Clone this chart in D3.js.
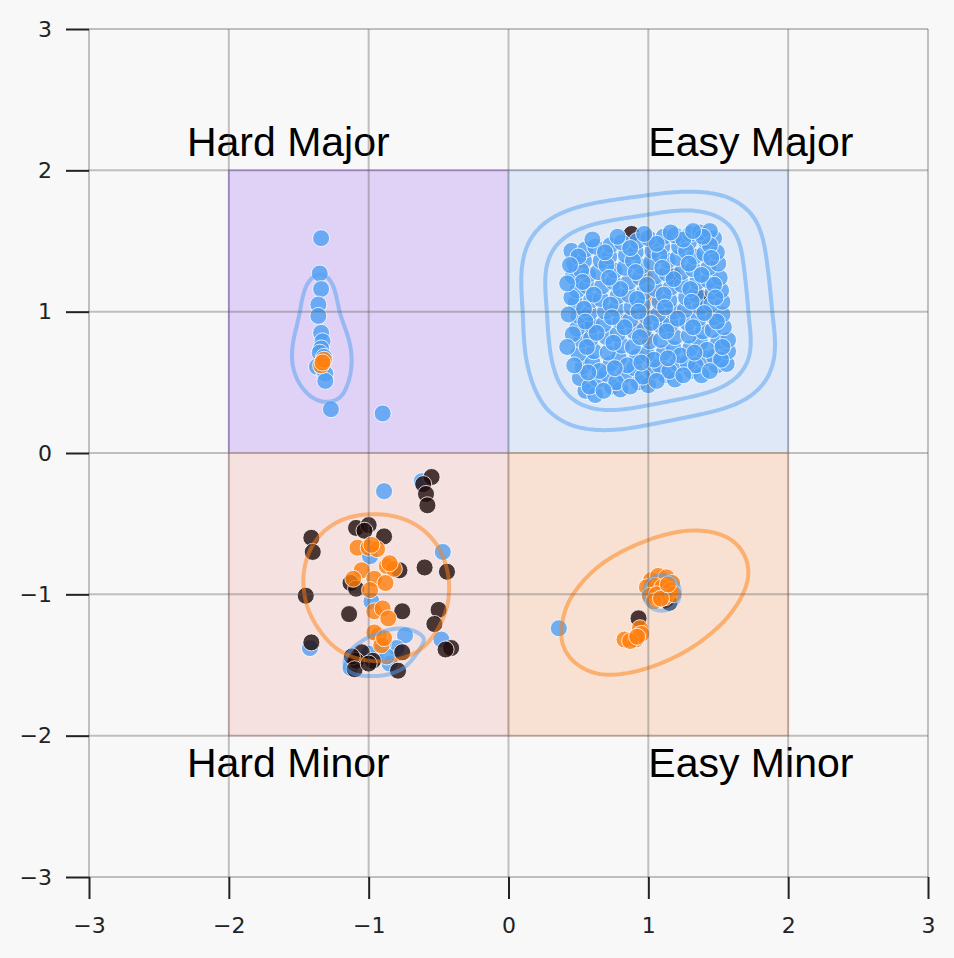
<!DOCTYPE html>
<html>
<head>
<meta charset="utf-8">
<script src="https://cdn.jsdelivr.net/npm/d3@7"></script>
<style>
  html, body { margin: 0; padding: 0; background: #f8f8f8; }
  svg { display: block; }
</style>
</head>
<body>
<svg id="chart" width="954" height="958"></svg>
<script>
// ---- data ----
const quadrants = [
  { name: 'Hard Major', x0: -2, x1: 0, y0: 0, y1: 2 },
  { name: 'Easy Major', x0: 0, x1: 2, y0: 0, y1: 2 },
  { name: 'Hard Minor', x0: -2, x1: 0, y0: -2, y1: 0 },
  { name: 'Easy Minor', x0: 0, x1: 2, y0: -2, y1: 0 }
];
const quadrantLabels = [
  { text: 'Hard Major', x: -2.3, y: 2.1 },
  { text: 'Easy Major', x: 1.0, y: 2.1 },
  { text: 'Hard Minor', x: -2.3, y: -2.29 },
  { text: 'Easy Minor', x: 1.0, y: -2.29 }
];
const tickValues = [-3, -2, -1, 0, 1, 2, 3];

const easyMajorBlue = [
  [0.55,0.44],[0.62,0.41],[0.74,0.47],[0.80,0.45],[0.93,0.50],[1.00,0.48],[1.12,0.55],[1.19,0.52],[1.31,0.58],[1.38,0.55],[1.49,0.62],[1.56,0.63],
  [0.51,0.53],[0.64,0.52],[0.70,0.56],[0.83,0.55],[0.90,0.60],[1.03,0.58],[1.08,0.62],[1.21,0.63],[1.28,0.64],[1.40,0.67],[1.47,0.68],[1.57,0.72],
  [0.53,0.61],[0.60,0.64],[0.73,0.63],[0.79,0.67],[0.92,0.68],[0.99,0.70],[1.11,0.71],[1.18,0.74],[1.30,0.74],[1.37,0.78],[1.50,0.79],[1.57,0.80],
  [0.50,0.70],[0.61,0.72],[0.71,0.71],[0.81,0.76],[0.89,0.75],[1.01,0.79],[1.09,0.80],[1.19,0.82],[1.29,0.83],[1.39,0.86],[1.46,0.87],[1.54,0.89],
  [0.52,0.80],[0.59,0.81],[0.70,0.82],[0.78,0.84],[0.90,0.86],[0.97,0.87],[1.09,0.90],[1.16,0.91],[1.28,0.92],[1.36,0.95],[1.47,0.96],[1.53,0.98],
  [0.49,0.88],[0.60,0.90],[0.68,0.91],[0.80,0.93],[0.87,0.94],[0.99,0.96],[1.07,0.98],[1.18,1.00],[1.26,1.01],[1.37,1.03],[1.45,1.05],[1.53,1.07],
  [0.50,0.97],[0.58,0.99],[0.69,1.00],[0.77,1.02],[0.88,1.03],[0.96,1.05],[1.08,1.07],[1.15,1.08],[1.27,1.10],[1.34,1.12],[1.46,1.14],[1.52,1.15],
  [0.48,1.06],[0.59,1.08],[0.66,1.09],[0.78,1.11],[0.86,1.12],[0.97,1.14],[1.05,1.16],[1.16,1.17],[1.24,1.19],[1.35,1.21],[1.43,1.22],[1.51,1.24],
  [0.49,1.15],[0.56,1.18],[0.67,1.18],[0.75,1.21],[0.86,1.21],[0.94,1.24],[1.05,1.25],[1.13,1.27],[1.24,1.28],[1.32,1.30],[1.43,1.31],[1.50,1.34],
  [0.46,1.25],[0.57,1.26],[0.64,1.28],[0.76,1.29],[0.83,1.31],[0.95,1.32],[1.02,1.35],[1.14,1.36],[1.21,1.38],[1.33,1.39],[1.40,1.41],[1.49,1.42],
  [0.47,1.34],[0.54,1.36],[0.66,1.36],[0.72,1.39],[0.84,1.40],[0.91,1.42],[1.03,1.43],[1.10,1.46],[1.22,1.46],[1.29,1.49],[1.41,1.50],[1.47,1.52],
  [0.45,1.43],[0.55,1.44],[0.62,1.46],[0.73,1.47],[0.81,1.49],[0.92,1.50],[1.00,1.52],[1.11,1.53],[1.19,1.54],[1.30,1.55],[1.37,1.56],[1.44,1.57],
  [0.58,0.47],[0.77,0.50],[0.96,0.54],[1.15,0.58],[1.34,0.62],[1.52,0.66],
  [0.56,0.75],[0.75,0.78],[0.94,0.82],[1.13,0.86],[1.32,0.89],[1.49,0.93],
  [0.54,1.02],[0.73,1.05],[0.92,1.09],[1.11,1.12],[1.30,1.16],[1.47,1.19],
  [0.52,1.29],[0.70,1.33],[0.89,1.36],[1.08,1.40],[1.27,1.43],[1.44,1.47],
  [0.50,1.39],[0.69,1.42],[0.87,1.45],[1.06,1.48],[1.25,1.51],[1.39,1.53],
  [0.65,0.58],[0.85,0.62],[1.04,0.66],[1.23,0.69],[1.42,0.73],
  [0.63,0.85],[0.83,0.89],[1.02,0.92],[1.21,0.95],[1.40,0.99],
  [0.61,1.12],[0.80,1.16],[0.99,1.19],[1.18,1.23],[1.38,1.26],
  [0.57,0.57],[0.76,0.60],[0.95,0.64],[1.14,0.67],[1.33,0.71],[1.53,0.75],
  [0.55,0.93],[0.74,0.96],[0.93,1.00],[1.12,1.03],[1.31,1.07],[1.48,1.10],
  [0.53,1.21],[0.72,1.24],[0.91,1.28],[1.10,1.31],[1.29,1.34],[1.45,1.38],
  [0.60,1.51],[0.78,1.53],[0.97,1.55],[1.16,1.56],[1.32,1.57],
  [0.68,0.44],[0.87,0.47],[1.06,0.51],[1.25,0.55],[1.44,0.58],
  [0.47,0.62],[0.46,0.84],[0.45,1.10],[0.42,0.75],[0.43,0.98],[0.42,1.20],[0.44,1.33]
];
const easyMajorOrange = [[0.98,1.24],[1.05,1.10],[0.96,1.01],[1.10,0.97],[0.96,0.90],[0.98,0.82]];
const easyMajorDark = [[1.18,1.25],[0.58,0.90],[1.37,1.10],[1.13,0.89],[0.88,1.55]];

const hardMajorBlue = [
  [-1.34,1.52],[-1.35,1.27],[-1.34,1.16],[-1.36,1.05],[-1.36,0.97],[-1.34,0.85],[-1.33,0.79],
  [-1.34,0.74],[-1.35,0.71],[-1.32,0.68],[-1.37,0.61],[-1.33,0.60],[-1.31,0.56],[-1.31,0.51],
  [-1.27,0.31],[-0.90,0.28]
];
const hardMajorOrange = [[-1.34,0.62],[-1.32,0.66],[-1.33,0.64]];

const hardMinorBlue = [
  [-0.62,-0.20],[-0.89,-0.27],[-0.47,-0.70],[-0.99,-0.73],[-0.98,-1.05],[-0.74,-1.29],[-0.48,-1.32],[-1.42,-1.38],
  [-1.13,-1.52],[-0.85,-1.49],[-0.95,-1.45],[-1.00,-1.42],[-0.80,-1.38],[-0.90,-1.36],[-0.87,-1.44]
];
const hardMinorOrange = [
  [-1.08,-0.67],[-1.00,-0.67],[-0.94,-0.68],[-0.98,-0.65],[-0.87,-0.80],[-0.82,-0.82],[-0.85,-0.78],
  [-1.05,-0.83],[-1.11,-0.89],[-0.96,-0.89],[-0.88,-0.92],[-0.99,-0.97],[-0.96,-1.12],[-0.90,-1.10],
  [-0.86,-1.17],[-0.93,-1.29],[-0.96,-1.27],[-0.91,-1.36],[-0.89,-1.31]
];
const hardMinorDark = [
  [-0.55,-0.17],[-0.61,-0.22],[-0.59,-0.29],[-0.58,-0.37],[-1.09,-0.53],[-1.00,-0.51],[-1.03,-0.55],
  [-0.89,-0.59],[-1.41,-0.60],[-1.40,-0.70],[-0.60,-0.81],[-0.44,-0.84],[-0.78,-0.83],[-1.13,-0.92],
  [-1.09,-0.96],[-1.45,-1.01],[-1.14,-1.14],[-0.76,-1.12],[-0.50,-1.11],[-0.53,-1.21],[-0.41,-1.38],
  [-0.45,-1.39],[-1.41,-1.34],[-1.05,-1.41],[-0.97,-1.47],[-0.76,-1.41],[-1.09,-1.47],[-1.12,-1.44],
  [-1.10,-1.53],[-0.79,-1.54],[-1.00,-1.49]
];

const easyMinorBlue = [[0.36,-1.24],[1.09,-0.98],[1.11,-1.01],[1.07,-1.00],[1.12,-0.97]];
const easyMinorOrange = [
  [1.02,-0.90],[1.07,-0.87],[1.13,-0.88],[1.17,-0.92],[0.99,-0.95],[1.05,-0.94],[1.10,-0.95],[1.16,-0.97],
  [1.01,-1.01],[1.06,-1.00],[1.12,-1.02],[1.18,-1.00],[1.04,-1.05],[1.09,-1.03],[1.14,-0.93],
  [0.94,-1.24],[0.83,-1.32],[0.91,-1.32],[0.95,-1.28],[0.87,-1.33],[0.92,-1.30]
];
const easyMinorDark = [[0.93,-1.17],[1.15,-1.06]];

// ---- setup ----
const width = 954, height = 958;
const svg = d3.select('#chart');
const x = d3.scaleLinear().domain([-3, 3]).range([89, 928]);
const y = d3.scaleLinear().domain([-3, 3]).range([877, 29]);

const colors = { blue: '#4f9ff2', orange: '#ff7f0e', dark: '#1f0a0a' };
const quadFill = {
  'Hard Major': ['#e0d1f7', '#b99be9'],
  'Easy Major': ['#dfe8f7', '#b9cdef'],
  'Hard Minor': ['#f6e1e1', '#e8c3c3'],
  'Easy Minor': ['#f8e1d3', '#ecc6ad']
};

svg.append('rect')
  .attr('width', width)
  .attr('height', height)
  .attr('fill', '#f8f8f8');

// quadrant boxes
svg.append('g')
  .selectAll('rect')
  .data(quadrants)
  .join('rect')
  .attr('x', d => x(d.x0))
  .attr('y', d => y(d.y1))
  .attr('width', d => x(d.x1) - x(d.x0))
  .attr('height', d => y(d.y0) - y(d.y1))
  .attr('fill', d => quadFill[d.name][0])
  .attr('stroke', d => quadFill[d.name][1])
  .attr('stroke-width', 1.5);

// points, in drawing order
const layers = [
  [easyMajorDark, 'dark'],
  [hardMinorBlue, 'blue'],
  [hardMinorDark, 'dark'],
  [easyMinorDark, 'dark'],
  [easyMinorBlue, 'blue'],
  [easyMajorOrange, 'orange'],
  [easyMajorBlue, 'blue'],
  [hardMajorBlue, 'blue'],
  [hardMajorOrange, 'orange'],
  [hardMinorOrange, 'orange'],
  [easyMinorOrange, 'orange']
];

const gPoints = svg.append('g');
layers.forEach(([pts, c]) => {
  gPoints.append('g')
    .selectAll('circle')
    .data(pts)
    .join('circle')
    .attr('cx', d => x(d[0]))
    .attr('cy', d => y(d[1]))
    .attr('r', 8.5)
    .attr('fill', colors[c])
    .attr('fill-opacity', 0.8)
    .attr('stroke', '#fff')
    .attr('stroke-opacity', 0.8)
    .attr('stroke-width', 1);
});

// density contours per cluster
// sx/sy/rot shape the kernel (like a kde with its own covariance)
const contourSpecs = [
  { pts: hardMajorBlue, c: 'blue', bw: 18, levels: [0.33] },
  { pts: easyMajorBlue, c: 'blue', bw: 22, sx: 0.97, sy: 1.2, levels: [0.03, 0.22] },
  { pts: hardMinorBlue, c: 'blue', bw: 16, sy: 1.5, rot: -10, levels: [0.3] },
  { pts: hardMinorOrange, c: 'orange', bw: 50, sy: 1.25, levels: [0.42] },
  { pts: easyMinorBlue, c: 'blue', bw: 10, levels: [0.3] },
  { pts: easyMinorOrange, c: 'orange', bw: 40, sx: 0.7, sy: 1.25, rot: -22, levels: [0.3] }
];

const gContours = svg.append('g').attr('fill', 'none');
const G = 1000;

contourSpecs.forEach(spec => {
  const a = (spec.rot || 0) * Math.PI / 180;
  const cos = Math.cos(a), sin = Math.sin(a);
  const sx = spec.sx || 1, sy = spec.sy || 1;
  const mx = d3.mean(spec.pts, d => x(d[0]));
  const my = d3.mean(spec.pts, d => y(d[1]));
  const fwd = (px, py) => {
    const dx = px - mx, dy = py - my;
    return [G / 2 + sx * (cos * dx + sin * dy), G / 2 + sy * (-sin * dx + cos * dy)];
  };
  const inv = (ux, uy) => {
    const rx = (ux - G / 2) / sx, ry = (uy - G / 2) / sy;
    return [mx + cos * rx - sin * ry, my + sin * rx + cos * ry];
  };

  const dens = d3.contourDensity()
    .x(d => fwd(x(d[0]), y(d[1]))[0])
    .y(d => fwd(x(d[0]), y(d[1]))[1])
    .size([G, G])
    .cellSize(2)
    .bandwidth(spec.bw);

  let shapes;
  if (typeof dens.contours === 'function') {
    const contour = dens.contours(spec.pts);
    shapes = spec.levels.map(f => contour(contour.max * f));
  } else {
    const all = dens.thresholds(300)(spec.pts);
    const max = d3.max(all, d => d.value);
    shapes = spec.levels.map(f => all[d3.minIndex(all, d => Math.abs(d.value - max * f))]);
  }

  const path = d3.geoPath(d3.geoTransform({
    point(px, py) {
      const p = inv(px, py);
      this.stream.point(p[0], p[1]);
    }
  }));

  gContours.append('g')
    .selectAll('path')
    .data(shapes)
    .join('path')
    .attr('d', path)
    .attr('stroke', colors[spec.c])
    .attr('stroke-opacity', 0.5)
    .attr('stroke-width', 4)
    .attr('stroke-linejoin', 'round');
});

// quadrant labels
svg.append('g')
  .selectAll('text')
  .data(quadrantLabels)
  .join('text')
  .attr('x', d => x(d.x))
  .attr('y', d => y(d.y))
  .attr('font-family', 'Liberation Sans, Arial, sans-serif')
  .attr('font-size', 41)
  .attr('fill', '#000')
  .text(d => d.text);

// grid on top
const grid = svg.append('g')
  .attr('stroke', '#555')
  .attr('stroke-opacity', 0.35)
  .attr('stroke-width', 2);
grid.selectAll('.gx')
  .data(tickValues)
  .join('line')
  .attr('class', 'gx')
  .attr('x1', d => x(d)).attr('x2', d => x(d))
  .attr('y1', y(3)).attr('y2', y(-3));
grid.selectAll('.gy')
  .data(tickValues)
  .join('line')
  .attr('class', 'gy')
  .attr('y1', d => y(d)).attr('y2', d => y(d))
  .attr('x1', x(-3)).attr('x2', x(3));

// axes (ticks only)
const fmt = d3.format('d');
const xAxis = svg.append('g')
  .attr('transform', `translate(0,${y(-3)})`)
  .call(d3.axisBottom(x).tickValues(tickValues).tickFormat(fmt).tickSize(22).tickPadding(18));
const yAxis = svg.append('g')
  .attr('transform', `translate(${x(-3)},0)`)
  .call(d3.axisLeft(y).tickValues(tickValues).tickFormat(fmt).tickSize(23).tickPadding(14));

[xAxis, yAxis].forEach(a => {
  a.select('.domain').remove();
  a.selectAll('.tick line').attr('stroke', '#222').attr('stroke-width', 2);
  a.selectAll('.tick text')
    .attr('fill', '#222')
    .attr('font-family', 'DejaVu Sans, Verdana, sans-serif')
    .attr('font-size', 22);
});
</script>
</body>
</html>
